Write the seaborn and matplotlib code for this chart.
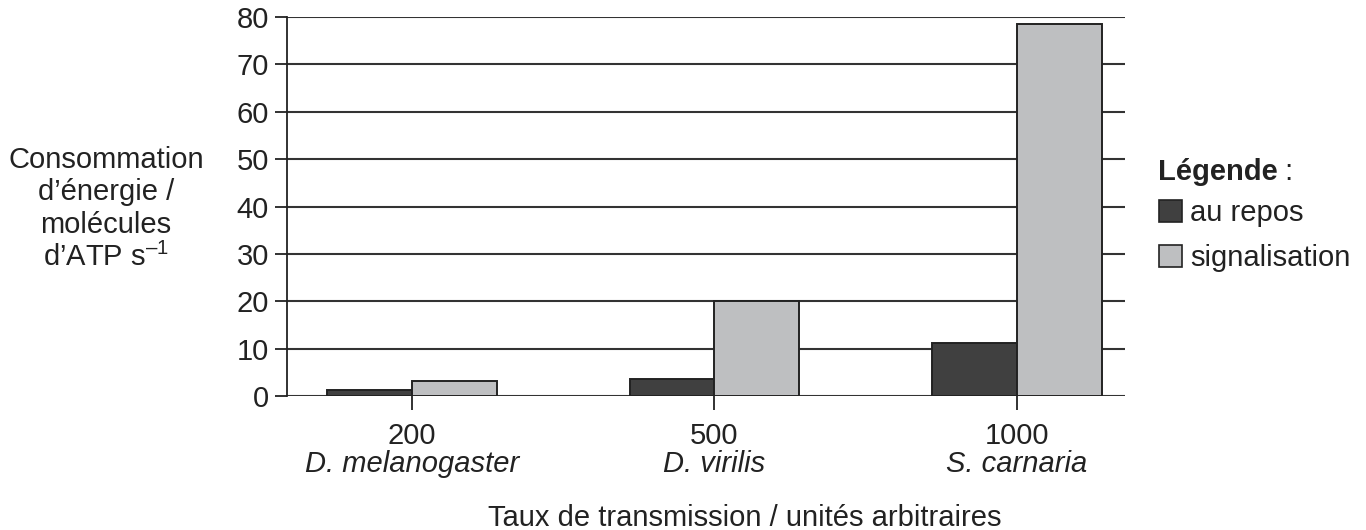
import matplotlib
matplotlib.use("Agg")
import matplotlib.pyplot as plt
from matplotlib.patches import Patch
import seaborn as sns
import pandas as pd

# data
taux = ["200", "500", "1000"]
especes = ["D. melanogaster", "D. virilis", "S. carnaria"]
repos = [1.3, 3.6, 11.2]
signalisation = [3.2, 20.0, 78.6]
yticks = [0, 10, 20, 30, 40, 50, 60, 70, 80]

df = pd.DataFrame({
    "taux": taux * 2,
    "energie": repos + signalisation,
    "etat": ["au repos"] * 3 + ["signalisation"] * 3,
})

sns.set_style("white")
plt.rcParams["font.family"] = ["Liberation Sans", "DejaVu Sans"]
plt.rcParams["mathtext.fontset"] = "custom"
plt.rcParams["mathtext.rm"] = "Liberation Sans"
fs = 21
dark = "#404040"
light = "#bebfc1"
ink = "#222222"

fig = plt.figure(figsize=(13.66, 5.3), dpi=100)
ax = fig.add_axes([287 / 1366, (530 - 396) / 530, 838 / 1366, 379 / 530])

sns.barplot(data=df, x="taux", y="energie", hue="etat", order=taux,
            hue_order=["au repos", "signalisation"], palette=[dark, light],
            width=0.56, gap=0, edgecolor=ink, linewidth=1.4, legend=False,
            ax=ax, zorder=3)

ax.set_xlim(-0.413, 2.357)
ax.set_ylim(0, 80)
ax.set_yticks(yticks)
ax.yaxis.grid(True, color="#333333", linewidth=1.5, zorder=0)
ax.set_axisbelow(True)
for s in ["top", "right", "bottom"]:
    ax.spines[s].set_visible(False)
ax.spines["left"].set_color(ink)
ax.spines["left"].set_linewidth(1.3)
ax.spines["left"].set_zorder(4)
ax.tick_params(axis="y", left=True, length=9, width=1.3, color=ink,
               labelsize=fs, pad=4, labelcolor=ink)
ax.tick_params(axis="x", bottom=True, length=10, width=1.3, color=ink,
               labelsize=fs, pad=9, labelcolor=ink)
ax.set_xlabel("")
ax.set_ylabel("")

for i, sp in enumerate(especes):
    ax.text(i, -0.18, sp, transform=ax.get_xaxis_transform(), ha="center",
            va="center", fontsize=fs, style="italic", color=ink)

fig.text(488 / 1366, 1 - 518 / 530, "Taux de transmission / unités arbitraires",
         ha="left", va="center", fontsize=fs, color=ink)

ylab = ["Consommation", "d’énergie /", "molécules", r"d’ATP s$^{\mathrm{–1}}$"]
for k, line in enumerate(ylab):
    fig.text(106 / 1366, 1 - (160 + 32.3 * k) / 530, line, ha="center",
             va="center", fontsize=fs, color=ink)

fig.text(1158 / 1366, 1 - 172 / 530, "Légende", ha="left", va="center",
         fontsize=fs, fontweight="bold", color=ink)
fig.text(1277 / 1366, 1 - 172 / 530, " :", ha="left", va="center",
         fontsize=fs, color=ink)

handles = [Patch(facecolor=dark, edgecolor=ink, linewidth=1.2),
           Patch(facecolor=light, edgecolor=ink, linewidth=1.2)]
ax.legend(handles, ["au repos", "signalisation"], loc="upper left",
          bbox_to_anchor=(1159 / 1366, 1 - 199 / 530),
          bbox_transform=fig.transFigure, frameon=False, fontsize=fs,
          handlelength=0.78, handleheight=0.78, handletextpad=0.3,
          labelspacing=0.6, borderpad=0, borderaxespad=0, labelcolor=ink)

fig.savefig("out.png", dpi=100)
